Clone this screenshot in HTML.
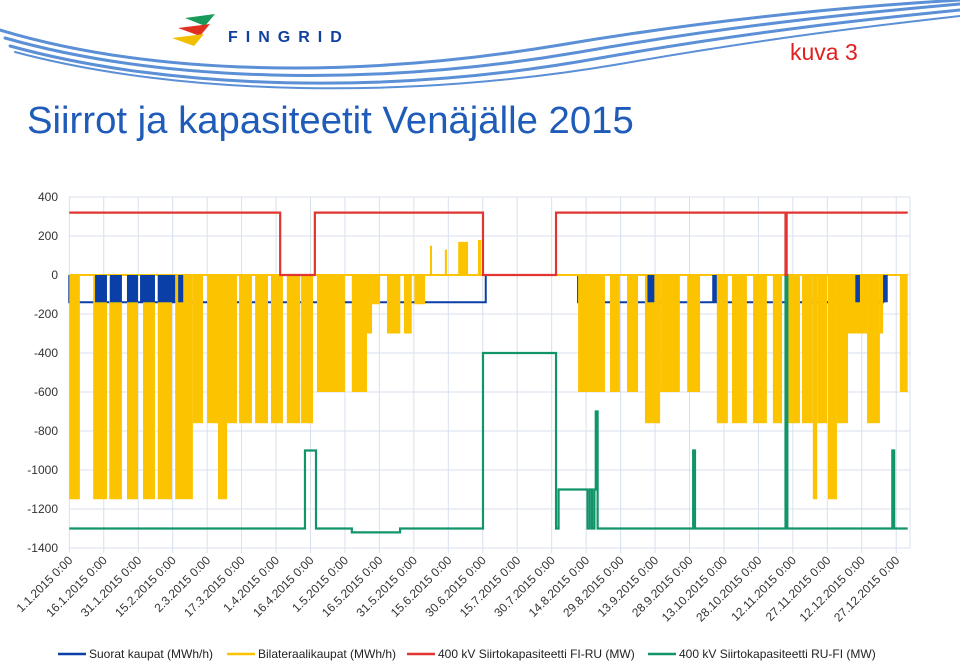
<!DOCTYPE html>
<html><head><meta charset="utf-8"><style>
body{margin:0;background:#fff;width:960px;height:663px;overflow:hidden;font-family:"Liberation Sans",sans-serif}
svg{display:block}
</style></head><body>
<svg width="960" height="663" viewBox="0 0 960 663">
<g fill="none" stroke="#5b8fd6" stroke-linecap="round">
<path d="M0,30 C150,75 350,80 560,45 C720,18 860,6 960,0" stroke-width="3"/>
<path d="M5,38 C160,82 370,88 580,52 C740,24 870,12 960,4" stroke-width="3"/>
<path d="M10,46 C170,90 390,96 600,58 C760,30 880,18 960,10" stroke-width="3"/>
<path d="M15,52 C180,96 410,100 620,64 C780,36 890,24 960,16" stroke-width="2"/>
</g>
<g>
<polygon points="185,18 215,14 205,26" fill="#1a9a5a"/>
<polygon points="178,28 210,24 200,36" fill="#e03020"/>
<polygon points="172,38 204,34 194,46" fill="#f0c000"/>
<text x="228" y="42" font-size="16" font-weight="bold" fill="#1040a0" letter-spacing="8">FINGRID</text>
</g>
<text x="790" y="60" font-size="23" fill="#e02020">kuva 3</text>
<text x="27" y="133" font-size="38.3" fill="#1f5bb8">Siirrot ja kapasiteetit Venäjälle 2015</text>
<g id="grid"></g>
<g id="blueline"></g>
<g id="yellow"></g>
<g id="blue"></g>
<g id="lines"></g>
<g id="axes"></g>
<g font-size="12" fill="#222">
<g><line x1="58" y1="654" x2="86" y2="654" stroke="#0a3fa8" stroke-width="2.5"/><text x="89" y="658">Suorat kaupat (MWh/h)</text></g>
<g><line x1="227" y1="654" x2="255" y2="654" stroke="#fcc400" stroke-width="2.5"/><text x="258" y="658">Bilateraalikaupat (MWh/h)</text></g>
<g><line x1="407" y1="654" x2="435" y2="654" stroke="#e03530" stroke-width="2.5"/><text x="438" y="658">400 kV Siirtokapasiteetti FI-RU (MW)</text></g>
<g><line x1="648" y1="654" x2="676" y2="654" stroke="#12946a" stroke-width="2.5"/><text x="679" y="658">400 kV Siirtokapasiteetti RU-FI (MW)</text></g>
</g>
</svg>
<script>
const yTicks=[400,200,0,-200,-400,-600,-800,-1000,-1200,-1400];
const xTickDays=[0,15,30,45,60,75,90,105,120,135,150,165,180,195,210,225,240,255,270,285,300,315,330,345,360];
const xTickLabels=["1.1.2015 0:00","16.1.2015 0:00","31.1.2015 0:00","15.2.2015 0:00","2.3.2015 0:00","17.3.2015 0:00","1.4.2015 0:00","16.4.2015 0:00","1.5.2015 0:00","16.5.2015 0:00","31.5.2015 0:00","15.6.2015 0:00","30.6.2015 0:00","15.7.2015 0:00","30.7.2015 0:00","14.8.2015 0:00","29.8.2015 0:00","13.9.2015 0:00","28.9.2015 0:00","13.10.2015 0:00","28.10.2015 0:00","12.11.2015 0:00","27.11.2015 0:00","12.12.2015 0:00","27.12.2015 0:00"];
const yellowStart=[0,10.4,17.4,25.1,32.1,38.5,46.1,53.8,60,64.7,67.8,73.9,80.9,87.8,94.7,100.9,107.8,123,128.7,131.8,138.3,145.7,150.2,157,163.5,169.3,177.9,221.5,235.4,242.8,250.6,257.2,269,281.9,288.5,297.7,306.3,312.5,319,323.7,325.6,330.3,334.2,338.6,347.3,352.9,361.6];
const yellowEnd=[4.6,16.4,22.9,29.9,37.3,44.7,53.8,58.2,65.5,68.7,73,79.5,86.5,93,100.5,106.1,120,129.6,131.8,135.3,144.1,149.1,154.9,157.9,164.4,173.6,179.3,233.2,239.7,247.6,257.2,265.8,274.6,286.7,295,303.7,310.3,318.1,323.7,325.6,329.9,334.2,339,347.3,352.9,354.3,365];
const yellowValue=[-1150,-1150,-1150,-1150,-1150,-1150,-1150,-760,-760,-1150,-760,-760,-760,-760,-760,-760,-600,-600,-300,-150,-300,-300,-150,150,130,170,180,-600,-600,-600,-760,-600,-600,-760,-760,-760,-760,-760,-760,-1150,-760,-1150,-760,-300,-760,-300,-600];
const blueStart=[11.2,17.7,25.1,30.8,38.5,47.4,251.7,279.9,342.2,354.3];
const blueEnd=[16.4,22.9,29.9,37.3,46.1,49.6,254.7,281.9,344.2,356.3];
const blueValue=[-140,-140,-140,-140,-140,-140,-140,-140,-140,-140];
const blueLineDays=[0,181.3,221.5,354.3];
const blueLineValue=-140;
const redDays=[0,91.8,106.9,180.1,211.9,311.8,312.3,365];
const redValues=[320,0,320,0,320,0,320,320];
const greenDays=[0,102.6,107.4,123,144,180.1,211.9,213,225.6,226.6,227.6,228.6,229.2,230,271.6,272.4,311.8,312.6,358.3,359.1,365];
const greenValues=[-1300,-900,-1300,-1320,-1300,-400,-1300,-1100,-1300,-1100,-1300,-1100,-700,-1300,-900,-1300,0,-1300,-900,-1300,-1300];

const X=d=>69.3+d*2.297, Y=v=>275-v*0.195;
const NS="http://www.w3.org/2000/svg";
function mk(tag,parent,attrs){const e=document.createElementNS(NS,tag);for(const k in attrs)e.setAttribute(k,attrs[k]);parent.appendChild(e);return e;}
const grid=document.getElementById('grid'),axes=document.getElementById('axes');
yTicks.forEach(v=>{
 const l=mk('line',grid,{x1:69,x2:910,y1:Y(v),y2:Y(v),stroke:'#d8e0ee','stroke-width':1});
 
 
 const t=mk('text',axes,{x:58,y:Y(v)+4,'text-anchor':'end','font-size':12,fill:'#333'});
 t.textContent=v;
 
 
});
xTickDays.forEach((d,i)=>{
 const l=mk('line',grid,{x1:X(d),x2:X(d),y1:Y(400),y2:Y(-1400)+5,stroke:'#d8e0ee','stroke-width':1});
 
 
 const t=mk('text',axes,{x:0,y:0,'text-anchor':'end','font-size':12,fill:'#333',transform:`translate(${X(d)+4},${561}) rotate(-45)`});
 t.textContent=xTickLabels[i];
 
 
});
mk('line',grid,{x1:910,x2:910,y1:Y(400),y2:Y(-1400),stroke:'#d8e0ee'});
const bl=document.getElementById('blueline');
for(let i=0;i<blueLineDays.length;i+=2){
 const p=mk('path',bl,{d:`M${X(blueLineDays[i])},${Y(0)}V${Y(blueLineValue)}H${X(blueLineDays[i+1])}V${Y(0)}`,fill:'none',stroke:'#0a3fa8','stroke-width':2});
 
 
}
const yel=document.getElementById('yellow');
for(let i=0;i<yellowStart.length;i++){
 const v=yellowValue[i];
 const r=mk('rect',yel,{x:X(yellowStart[i]),width:Math.max(1.5,X(yellowEnd[i])-X(yellowStart[i])),y:Math.min(Y(0),Y(v)),height:Math.abs(Y(v)-Y(0)),fill:'#fcc400'});
 
 
}
const yb=mk('line',yel,{x1:X(0),x2:X(365),y1:Y(0),y2:Y(0),stroke:'#fcc400','stroke-width':2});


const blue=document.getElementById('blue');
for(let i=0;i<blueStart.length;i++){
 const r=mk('rect',blue,{x:X(blueStart[i]),width:X(blueEnd[i])-X(blueStart[i]),y:Y(0),height:Y(blueValue[i])-Y(0),fill:'#0a3fa8'});
 
 
}
function step(days,vals){let d=`M${X(days[0])},${Y(vals[0])}`;for(let i=1;i<days.length;i++){d+=`H${X(days[i])}V${Y(vals[i])}`;}return d;}
const lines=document.getElementById('lines');
const g=mk('path',lines,{d:step(greenDays,greenValues),fill:'none',stroke:'#12946a','stroke-width':2.2});


const r=mk('path',lines,{d:step(redDays,redValues),fill:'none',stroke:'#e03530','stroke-width':2.2});


</script>
</body></html>
